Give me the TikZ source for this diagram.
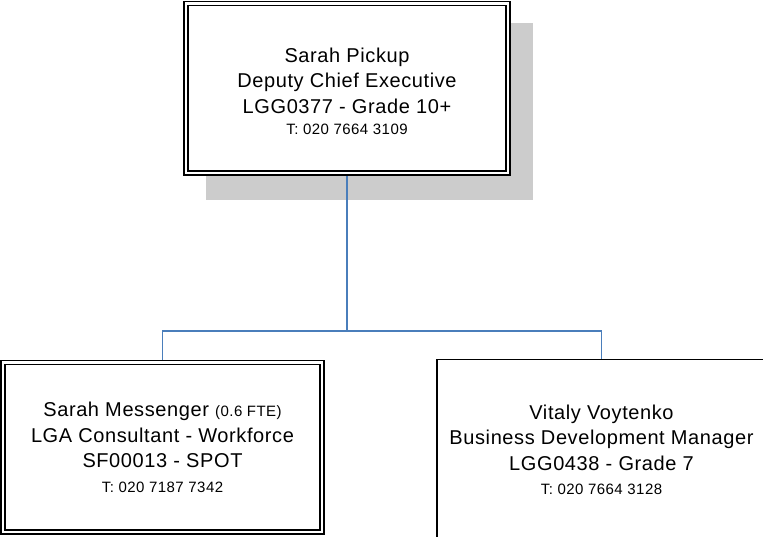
\documentclass[tikz,border=0pt]{standalone}
\usepackage{fontspec}
\setmainfont{Liberation Sans}[LetterSpace=3]
\usetikzlibrary{backgrounds}
\definecolor{connblue}{HTML}{4A7EBB}
\definecolor{shadowgray}{HTML}{CCCCCC}
\newcommand\mainsz{\fontsize{20}{25.5}\selectfont}
\newcommand\telsz{\fontsize{15}{18}\selectfont}
\begin{document}
\begin{tikzpicture}[x=1pt,y=-1pt,
  box/.style={draw=black, fill=white, align=center, inner sep=0pt, outer sep=0pt, font=\mainsz},
  dbox/.style={box, double=white, line width=1.6pt, double distance=2.4pt, minimum height=169.5pt},
  sbox/.style={box, line width=1.6pt},
  conn/.style={draw=connblue, line width=1.8pt},
  shade/.style={fill=shadowgray}]
\useasboundingbox (0,0) rectangle (763,536);
\clip (0,0) rectangle (763,536);
\node[dbox, minimum width=321.5pt] (top) at (347,88.25)
  {\rule{0pt}{21pt}Sarah Pickup\\Deputy Chief Executive\\LGG0377 - Grade 10+\\[-4pt]{\telsz T: 020 7664 3109}};
\node[dbox, minimum width=319pt] (left) at (162.5,447.25)
  {Sarah Messenger {\telsz (0.6 FTE)}\\LGA Consultant - Workforce\\SF00013 - SPOT\\[-1pt]{\telsz T: 020 7187 7342}};
\node[sbox, minimum width=329pt, minimum height=180.5pt] (right) at (601.5,449.75)
  {Vitaly Voytenko\\Business Development Manager\\LGG0438 - Grade 7\\[-1pt]{\telsz T: 020 7664 3128}};
\coordinate (bus) at (347,331);
\begin{pgfonlayer}{background}
  \fill[shade] ([shift={(20,19.5)}]top.north west) rectangle ([shift={(25.5,27)}]top.south east);
  \draw[conn] (top.south) -- (bus);
  \draw[conn] (bus) -| (left.north);
  \draw[conn] (bus) -| (right.north);
\end{pgfonlayer}
\end{tikzpicture}
\end{document}
